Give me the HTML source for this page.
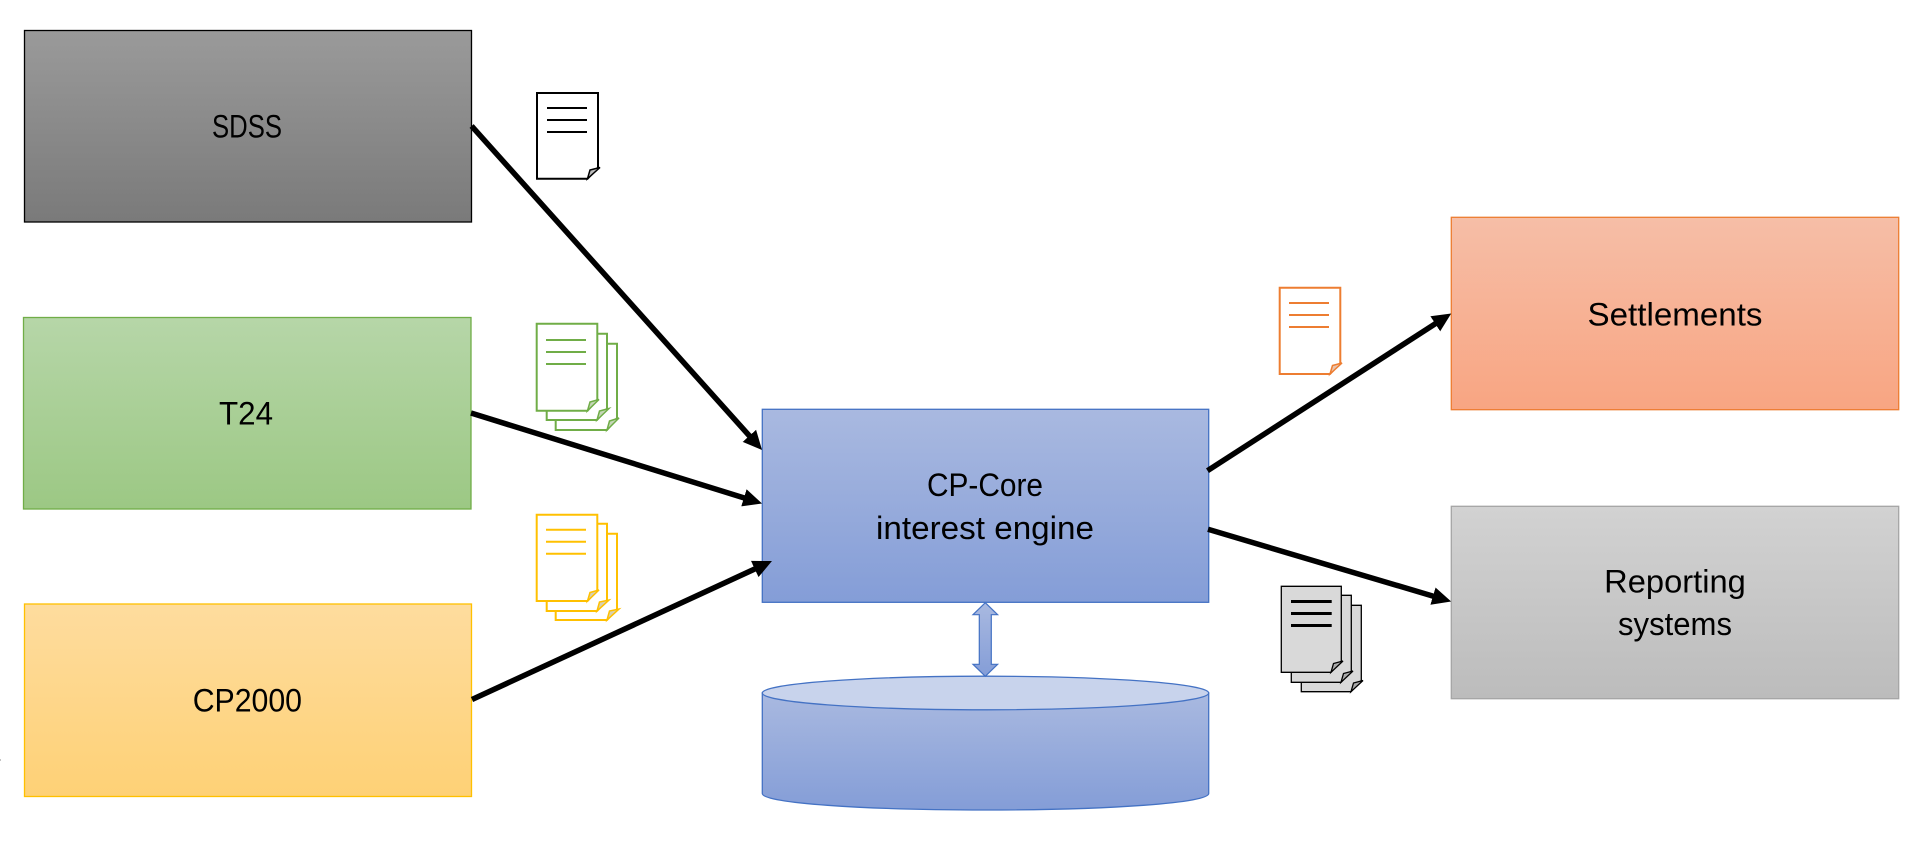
<!DOCTYPE html>
<html><head><meta charset="utf-8"><style>html,body{margin:0;padding:0;background:#fff;width:1921px;height:841px;overflow:hidden}svg{display:block}text{font-family:"Liberation Sans",sans-serif;font-size:32px;fill:#000}</style></head><body>
<svg width="1921" height="841" viewBox="0 0 1921 841">
<defs>
<linearGradient id="g1" x1="0" y1="0" x2="0" y2="1"><stop offset="0" stop-color="#9a9a9a"/><stop offset="1" stop-color="#7a7a7a"/></linearGradient>
<linearGradient id="g2" x1="0" y1="0" x2="0" y2="1"><stop offset="0" stop-color="#b6d6a8"/><stop offset="1" stop-color="#9cc884"/></linearGradient>
<linearGradient id="g3" x1="0" y1="0" x2="0" y2="1"><stop offset="0" stop-color="#fedc9e"/><stop offset="1" stop-color="#fed176"/></linearGradient>
<linearGradient id="g4" x1="0" y1="0" x2="0" y2="1"><stop offset="0" stop-color="#f6bea7"/><stop offset="1" stop-color="#f8a582"/></linearGradient>
<linearGradient id="g5" x1="0" y1="0" x2="0" y2="1"><stop offset="0" stop-color="#d2d2d2"/><stop offset="1" stop-color="#bcbcbc"/></linearGradient>
<linearGradient id="g6" x1="0" y1="0" x2="0" y2="1"><stop offset="0" stop-color="#a9b9e0"/><stop offset="1" stop-color="#849dd7"/></linearGradient>
<marker id="ah" markerUnits="userSpaceOnUse" markerWidth="24" markerHeight="22" refX="11" refY="10" orient="auto"><path d="M0,1 L19,10 L0,19 Z" fill="#000"/></marker>
</defs>

<rect x="24.5" y="30.5" width="447" height="191.5" fill="url(#g1)" stroke="#000" stroke-width="1.3"/>
<rect x="23.5" y="317.5" width="447.5" height="191.5" fill="url(#g2)" stroke="#70ad47" stroke-width="1.3"/>
<rect x="24.5" y="604" width="447" height="192.5" fill="url(#g3)" stroke="#ffc000" stroke-width="1.3"/>
<rect x="1451.3" y="217.3" width="447.4" height="192.4" fill="url(#g4)" stroke="#ed7d31" stroke-width="1.3"/>
<rect x="1451.3" y="506.3" width="447.4" height="192.4" fill="url(#g5)" stroke="#a5a5a5" stroke-width="1.3"/>
<rect x="762.3" y="409.3" width="446.4" height="193" fill="url(#g6)" stroke="#4472c4" stroke-width="1.3"/>

<path d="M762.3,693 V793.5 C762.3,803 862,810 985.5,810 C1109,810 1208.7,803 1208.7,793.5 V693 Z" fill="url(#g6)" stroke="#4472c4" stroke-width="1.3"/>
<ellipse cx="985.5" cy="693" rx="223.2" ry="16.8" fill="#c8d3ec" stroke="#4472c4" stroke-width="1.3"/>
<path d="M985.3,602.7 L997.6,614.7 H991.3 V664.3 H997.6 L985.3,676.3 L973,664.3 H979.3 V614.7 H973 Z" fill="url(#g6)" stroke="#4472c4" stroke-width="1.2"/>

<g stroke="#000" stroke-width="5.5" fill="none">
<line x1="471.6" y1="126" x2="756.7" y2="444" marker-end="url(#ah)"/>
<line x1="471" y1="413" x2="754.4" y2="501.1" marker-end="url(#ah)"/>
<line x1="472" y1="699.5" x2="764.7" y2="564.4" marker-end="url(#ah)"/>
<line x1="1207.5" y1="470.7" x2="1444.5" y2="317.8" marker-end="url(#ah)"/>
<line x1="1208" y1="529.3" x2="1443.5" y2="599.2" marker-end="url(#ah)"/>
</g>

<!-- black doc -->
<g fill="#fff" stroke="#000" stroke-width="2">
<path d="M537,93 H598 V167.5 L587.5,178.7 H537 Z"/>
<path d="M587.5,178.7 L590,170 L600,167.5 Z" fill="#bbb" stroke-width="1.5"/>
<path d="M547,108 H587 M547,120 H587 M547,132 H587"/>
</g>

<!-- green docs -->
<g fill="#fff" stroke="#70ad47" stroke-width="2">
<path d="M555.7,343.7 H617 V418 L607,430 H555.7 Z"/>
<path d="M607,430 L609.5,421 L619,418 Z" fill="#c5d6b8" stroke-width="1.5"/>
<path d="M546.7,333.7 H607 V408.5 L597,420 H546.7 Z"/>
<path d="M597,420 L599.5,411 L609,408.5 Z" fill="#c5d6b8" stroke-width="1.5"/>
<path d="M536.7,323.7 H597.3 V399.5 L587.5,410.7 H536.7 Z"/>
<path d="M587.5,410.7 L590,402 L599,399.5 Z" fill="#c5d6b8" stroke-width="1.5"/>
<path d="M546,340 H586 M546,352 H586 M546,364 H586"/>
</g>

<!-- yellow docs -->
<g fill="#fff" stroke="#ffc000" stroke-width="2">
<path d="M555.7,533.7 H617 V609 L607,620 H555.7 Z"/>
<path d="M607,620 L609.5,611 L619,609 Z" fill="#d8d0b0" stroke-width="1.5"/>
<path d="M546.7,523.7 H607 V600 L597,611 H546.7 Z"/>
<path d="M597,611 L599.5,602 L609,600 Z" fill="#d8d0b0" stroke-width="1.5"/>
<path d="M536.7,514.7 H597.3 V590 L587.5,601 H536.7 Z"/>
<path d="M587.5,601 L590,592.5 L599,590 Z" fill="#d8d0b0" stroke-width="1.5"/>
<path d="M546,529.7 H586 M546,541.7 H586 M546,553.7 H586"/>
</g>

<!-- orange doc -->
<g fill="#fff" stroke="#ed7d31" stroke-width="2">
<path d="M1279.7,287.7 H1340.3 V363 L1330,374 H1279.7 Z"/>
<path d="M1330,374 L1332.5,365.5 L1342,363 Z" fill="#e8c4ae" stroke-width="1.5"/>
<path d="M1289,303 H1329 M1289,315 H1329 M1289,327 H1329"/>
</g>

<!-- gray docs -->
<g fill="#d9d9d9" stroke="#000" stroke-width="1.3">
<path d="M1301.3,605.3 H1361.3 V680.5 L1351,691.7 H1301.3 Z"/>
<path d="M1351,691.7 L1353.5,683 L1363,680.5 Z" fill="#aaa"/>
<path d="M1291.3,595.3 H1351.3 V671 L1341,682.3 H1291.3 Z"/>
<path d="M1341,682.3 L1343.5,673.5 L1353,671 Z" fill="#aaa"/>
<path d="M1281.3,586.3 H1341.3 V661 L1331,672.3 H1281.3 Z"/>
<path d="M1331,672.3 L1333.5,663.5 L1343,661 Z" fill="#aaa"/>
<path d="M1291,601.5 H1331.7 M1291,613.5 H1331.7 M1291,625.5 H1331.7" stroke-width="3"/>
</g>

<text x="212" y="137.7" textLength="70" lengthAdjust="spacingAndGlyphs">SDSS</text>
<text x="219" y="424.5" textLength="54" lengthAdjust="spacingAndGlyphs">T24</text>
<text x="192.7" y="711.7" textLength="109.3" lengthAdjust="spacingAndGlyphs">CP2000</text>
<text x="927" y="496" textLength="116" lengthAdjust="spacingAndGlyphs">CP-Core</text>
<text x="876" y="539" textLength="218" lengthAdjust="spacingAndGlyphs">interest engine</text>
<text x="1587.5" y="325.3" textLength="175" lengthAdjust="spacingAndGlyphs">Settlements</text>
<text x="1604.2" y="592.3" textLength="141.6" lengthAdjust="spacingAndGlyphs">Reporting</text>
<text x="1618" y="635" textLength="114" lengthAdjust="spacingAndGlyphs">systems</text>

<rect x="0" y="759.5" width="1" height="1" fill="#888"/>
</svg>
</body></html>
